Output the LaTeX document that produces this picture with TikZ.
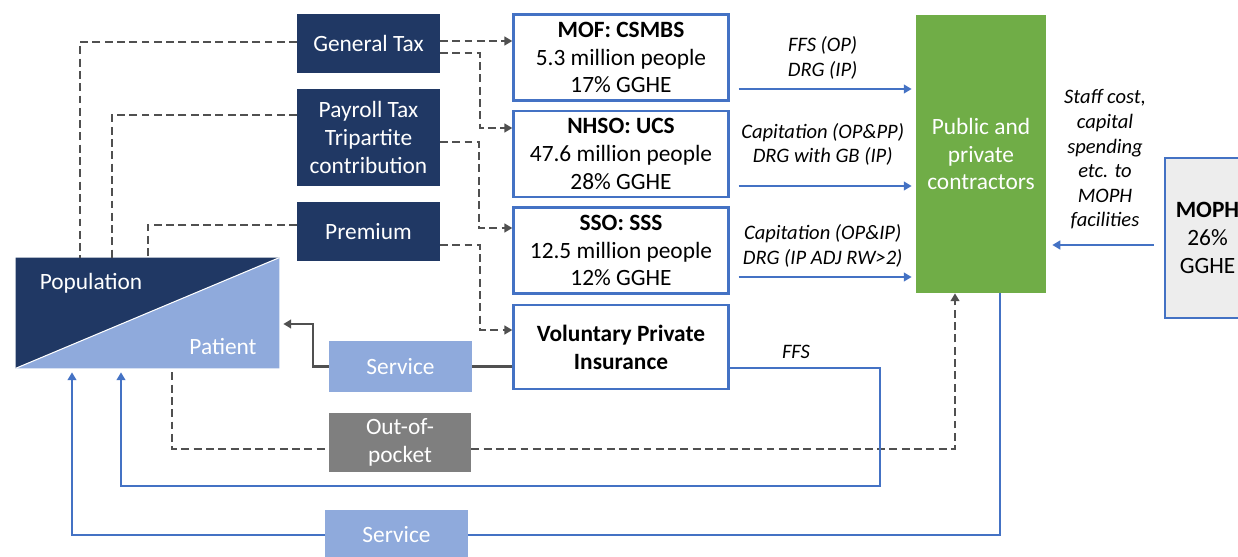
\documentclass[tikz,border=0pt]{standalone}
\usepackage{fontspec}
\setmainfont{Carlito}
\usetikzlibrary{arrows.meta, calc}
\definecolor{navy}{HTML}{203864}
\definecolor{lblue}{HTML}{8FAADC}
\definecolor{mblue}{HTML}{4472C4}
\definecolor{cgreen}{HTML}{70AD47}
\definecolor{oopgray}{HTML}{7F7F7F}
\definecolor{dashgray}{HTML}{505050}
\definecolor{mophgray}{HTML}{EDEDED}
\newcommand{\boxfont}{\fontsize{13.3}{15.9}\selectfont}
\newcommand{\lblfont}{\fontsize{11.7}{14}\selectfont\itshape}

\tikzset{
  fundbox/.style={fill=navy, text=white, inner sep=0pt, outer sep=0pt,
                  minimum width=2.86cm, align=center},
  scheme/.style={draw=mblue, line width=1.4pt, fill=white, inner sep=0pt,
                 minimum width=4.3cm, minimum height=1.72cm, align=center},
  servbox/.style={fill=lblue, text=white, inner sep=0pt,
                  minimum width=2.86cm, minimum height=1.02cm},
  pay/.style={dashgray, dash pattern=on 4.5pt off 2.5pt, line width=1.3pt},
  payarrow/.style={pay, -{Triangle[length=4.5pt, width=5pt]}},
  flow/.style={mblue, line width=1.1pt, -{Triangle[length=4.5pt, width=5pt]}},
  link/.style={mblue, line width=1.1pt},
  lbl/.style={font=\lblfont, text=black, align=center, inner sep=2pt}
}

\begin{document}
\begin{tikzpicture}[x=0.02cm, y=-0.02cm, font=\boxfont]
  \useasboundingbox (0,0) rectangle (1238,557);

  % Population / patient
  \node[minimum width=5.26cm, minimum height=2.2cm, inner sep=0pt] (pop) at (147.5,313) {};
  \fill[navy] (pop.north west) -- (pop.north east) -- (pop.south west) -- cycle;
  \fill[lblue] (pop.north east) -- (pop.south east) -- (pop.south west) -- cycle;
  \draw[white, line width=0.6pt] (pop.south west) -- (pop.north east);
  \node[text=white] (poplbl) at (91,283) {Population};
  \node[text=white] (patlbl) at (223,347) {Patient};

  % Funding sources
  \node[fundbox, minimum height=1.18cm] (gtax) at (368.5,43.5) {General Tax};
  \node[fundbox, minimum height=1.94cm] (ptax) at (368.5,137.5) {Payroll Tax\\Tripartite\\contribution};
  \node[fundbox, minimum height=1.18cm] (prem) at (368.5,231.5) {Premium};

  % Schemes
  \node[scheme] (mof) at (621,57.5) {\textbf{MOF: CSMBS}\\5.3 million people\\17\% GGHE};
  \node[scheme] (nhso) at (621,154) {\textbf{NHSO: UCS}\\47.6 million people\\28\% GGHE};
  \node[scheme] (sso) at (621,250.5) {\textbf{SSO: SSS}\\12.5 million people\\12\% GGHE};
  \node[scheme, minimum height=1.68cm] (vpi) at (621,347) {\textbf{Voluntary Private}\\\textbf{Insurance}};

  % Providers
  \node[fill=cgreen, text=white, inner sep=0pt, align=center,
        minimum width=2.6cm, minimum height=5.56cm] (contr) at (981,154) {Public and\\private\\contractors};
  \node[draw=mblue, fill=mophgray, line width=1.4pt, inner sep=0pt, align=center,
        minimum width=1.7cm, minimum height=3.2cm] (moph) at (1207.5,238) {\textbf{MOPH}\\26\%\\GGHE};

  % Service and out-of-pocket
  \node[servbox] (serv1) at (400.5,366.5) {Service};
  \node[fill=oopgray, text=white, inner sep=0pt, align=center,
        minimum width=2.84cm, minimum height=1.18cm] (oop) at (400,442.5) {Out-of-\\pocket};
  \node[servbox] (serv2) at (396.5,535) {Service};

  % Population pays
  \draw[pay] (gtax.west |- 0,42) -| (80,0 |- pop.north);
  \draw[pay] (ptax.west |- 0,115) -| (112,0 |- pop.north);
  \draw[pay] (prem.west |- 0,225) -| (148,0 |- pop.north);

  % Pooling
  \draw[payarrow] (gtax.east |- 0,41) -- (mof.west |- 0,41);
  \draw[payarrow] (gtax.east |- 0,53) -| (480,128) -- (nhso.west |- 0,128);
  \draw[payarrow] (ptax.east |- 0,142) -| (479,228) -- (sso.west |- 0,228);
  \draw[payarrow] (prem.east |- 0,245) -| (480,330) -- (vpi.west |- 0,330);

  % Purchasing
  \draw[flow, shorten <=0.18cm, shorten >=0.08cm] (mof.east |- 0,89) -- (contr.west |- 0,89)
    node[lbl, midway, above=3pt] (l1) {FFS (OP)\\DRG (IP)};
  \draw[flow, shorten <=0.18cm, shorten >=0.08cm] (nhso.east |- 0,186) -- (contr.west |- 0,186)
    node[lbl, midway, above=9pt] (l2) {Capitation (OP\&PP)\\DRG with GB (IP)};
  \draw[flow, shorten <=0.18cm, shorten >=0.08cm] (sso.east |- 0,277) -- (contr.west |- 0,277)
    node[lbl, midway, above=3pt] (l3) {Capitation (OP\&IP)\\DRG (IP ADJ RW>2)};
  \draw[flow, shorten <=0.2cm, shorten >=0.12cm] (moph.west |- 0,245) -- (contr.east |- 0,245);
  \node[lbl] (l4) at (1105,159.5) {Staff cost,\\capital\\spending\\etc. to\\MOPH\\facilities};

  % Service to patient
  \draw[dashgray, line width=1.2pt] (serv1.east) -- (vpi.west |- serv1.east);
  \draw[dashgray, line width=1.2pt, -{Triangle[length=4.5pt, width=5pt]}, shorten >=0.08cm]
    (serv1.west) -| (313,324) -- (pop.east |- 0,324);

  % Out-of-pocket
  \draw[pay] (172,0 |- pop.south) ++(0,4) |- (oop.west |- 0,449);
  \draw[payarrow] (oop.east |- 0,449) -| (955,0 |- contr.south);

  % Voluntary insurance pays providers
  \draw[flow, shorten >=0.08cm] (vpi.east |- 0,368) -| (880,486) -| (121,0 |- pop.south);
  \node[lbl] (l5) at (796,352) {FFS};

  % Service from providers
  \draw[link] (contr.south -| 1000,0) |- (serv2.east);
  \draw[flow, shorten >=0.08cm] (serv2.west) -| (72,0 |- pop.south);

\end{tikzpicture}
\end{document}
